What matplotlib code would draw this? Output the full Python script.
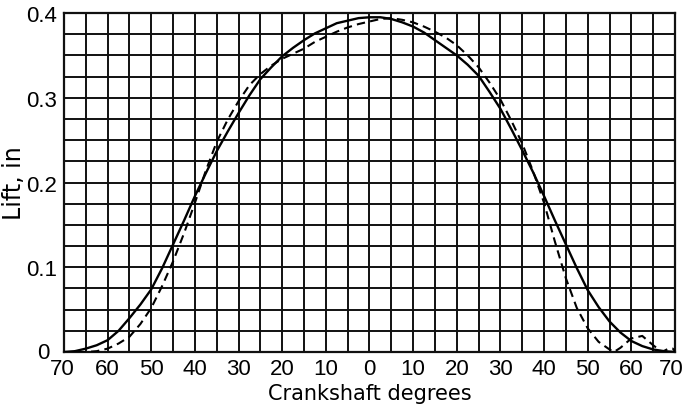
import matplotlib
matplotlib.use("Agg")
import matplotlib.pyplot as plt
from matplotlib import font_manager
import matplotlib.transforms as mtransforms
import numpy as np

# ---- data (crank angle in degrees, lift in inches) ----
solid_deg = [-70, -67.5, -65, -62.5, -60, -57.5, -55, -52.5, -50, -47.5, -45, -42.5,
             -40, -37.5, -35, -32.5, -30, -27.5, -25, -22.5, -20, -17.5, -15, -12.5,
             -10, -7.5, -5, -2.5, 0, 2.5, 5, 7.5, 10, 12.5, 15, 17.5, 20, 22.5, 25,
             27.5, 30, 32.5, 35, 37.5, 40, 42.5, 45, 47.5, 50, 52.5, 55, 57.5, 60,
             62.5, 65, 67.5, 70]
solid_lift = [0.000, 0.001, 0.004, 0.008, 0.014, 0.025, 0.040, 0.056, 0.074, 0.099,
              0.127, 0.155, 0.184, 0.211, 0.237, 0.260, 0.282, 0.303, 0.322, 0.336,
              0.349, 0.359, 0.368, 0.376, 0.382, 0.388, 0.391, 0.394, 0.395, 0.395,
              0.393, 0.389, 0.384, 0.377, 0.368, 0.359, 0.350, 0.339, 0.326, 0.307,
              0.287, 0.263, 0.238, 0.212, 0.184, 0.155, 0.127, 0.099, 0.073, 0.053,
              0.036, 0.023, 0.013, 0.007, 0.003, 0.001, 0.000]

dashed_deg = [-70, -65, -62.5, -60, -57.5, -55, -52.5, -50, -47.5, -45, -42.5, -40,
              -37.5, -35, -32.5, -30, -27.5, -25, -22.5, -20, -17.5, -15, -12.5, -10,
              -7.5, -5, -2.5, 0, 2.5, 5, 7.5, 10, 12.5, 15, 17.5, 20, 22.5, 25, 27.5,
              30, 32.5, 35, 37.5, 40, 42.5, 45, 47.5, 50, 52.5, 55, 56, 57.5, 60,
              62.5, 65, 67, 68.5, 69.5, 70]
dashed_lift = [0.000, 0.000, 0.001, 0.004, 0.010, 0.018, 0.033, 0.052, 0.078, 0.107,
               0.140, 0.176, 0.214, 0.248, 0.274, 0.296, 0.315, 0.328, 0.338, 0.346,
               0.352, 0.358, 0.366, 0.372, 0.378, 0.383, 0.387, 0.390, 0.393, 0.394,
               0.392, 0.389, 0.384, 0.378, 0.371, 0.362, 0.350, 0.336, 0.318, 0.298,
               0.273, 0.246, 0.213, 0.176, 0.130, 0.087, 0.052, 0.028, 0.012, 0.003,
               0.000, 0.005, 0.016, 0.019, 0.008, 0.000, 0.004, 0.004, 0.001]

x_ticks = [-70, -60, -50, -40, -30, -20, -10, 0, 10, 20, 30, 40, 50, 60, 70]
x_tick_labels = ["70", "60", "50", "40", "30", "20", "10", "0",
                 "10", "20", "30", "40", "50", "60", "70"]
y_ticks = [0, 0.1, 0.2, 0.3, 0.4]
y_tick_labels = ["0", "0.1", "0.2", "0.3", "0.4"]

# condensed digits like the hand lettering, if a narrow face is around
installed = {f.name for f in font_manager.fontManager.ttflist}
tick_font = "Liberation Sans Narrow" if "Liberation Sans Narrow" in installed else "Liberation Sans"

# ---- plot ----
fig = plt.figure(figsize=(6.85, 4.14), dpi=100)
ax = fig.add_axes([0.0934, 0.1473, 0.892, 0.8188])

ax.plot(solid_deg, solid_lift, color="black", lw=1.7, solid_joinstyle="round", zorder=3)
ax.plot(dashed_deg, dashed_lift, color="black", lw=1.5, linestyle=(0, (4, 2.5)), zorder=3)

ax.set_xlim(-70, 70)
ax.set_ylim(0, 0.4)

# graph-paper grid: 5 degree columns, 0.025 in rows
ax.set_xticks(x_ticks)
ax.set_xticks(np.arange(-65, 70, 10), minor=True)
ax.set_yticks(y_ticks)
ax.set_yticks([v for v in np.arange(0.025, 0.4, 0.025) if abs(v * 10 - round(v * 10)) > 1e-6],
              minor=True)
ax.grid(which="both", color="#111111", lw=1.4)
ax.set_axisbelow(True)

ax.set_xticklabels(x_tick_labels, fontfamily=tick_font, fontsize=16)
ax.set_yticklabels(y_tick_labels, fontfamily=tick_font, fontsize=16)
ax.tick_params(which="both", length=0)
ax.tick_params(axis="x", pad=4)
ax.tick_params(axis="y", pad=5)

# nudge the corner labels apart, as in the original lettering
def nudge(label, dx, dy):
    off = mtransforms.ScaledTranslation(dx / 100, dy / 100, fig.dpi_scale_trans)
    label.set_transform(label.get_transform() + off)

nudge(ax.get_yticklabels()[0], -8, 2)
nudge(ax.get_xticklabels()[0], -2, 0)
nudge(ax.get_xticklabels()[-1], -4, 0)

for s in ax.spines.values():
    s.set_color("#111111")
    s.set_linewidth(1.6)

ax.set_xlabel("Crankshaft degrees", fontsize=15, labelpad=3)
ax.set_ylabel("Lift, in", fontsize=17)
ax.yaxis.set_label_coords(-0.062, 0.5)

fig.savefig("out.png", dpi=100)
